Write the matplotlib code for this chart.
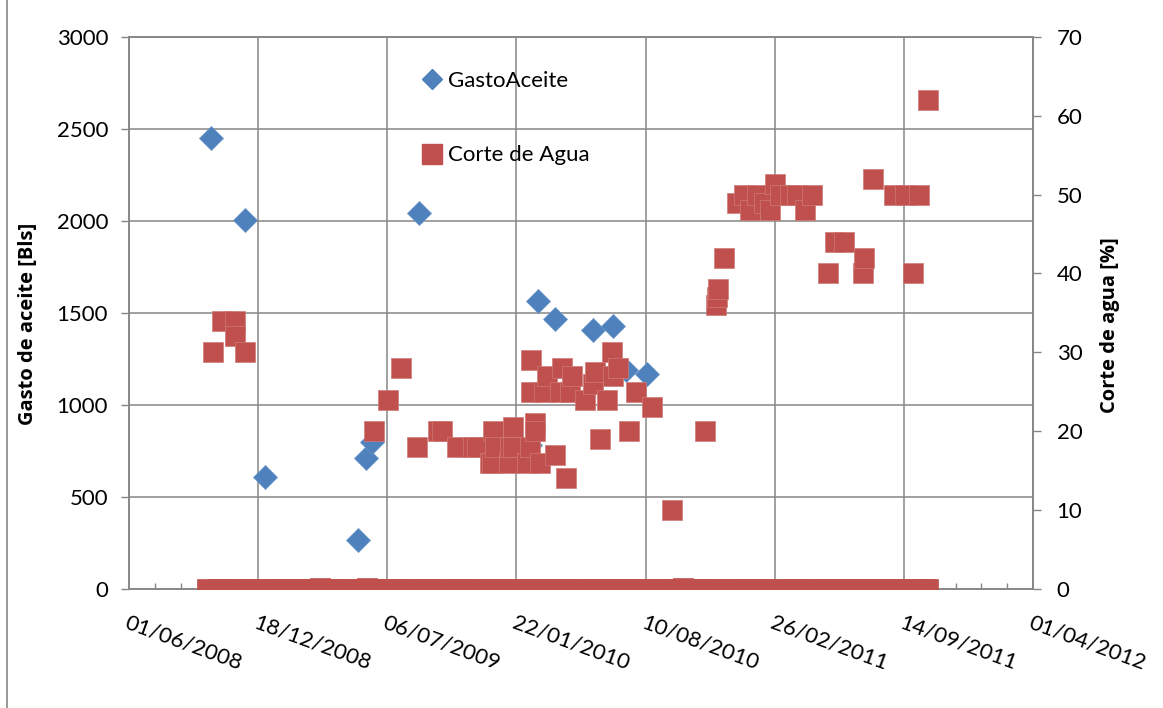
import pandas as pd
import matplotlib
matplotlib.use('Agg')
import matplotlib.pyplot as plt
from matplotlib.lines import Line2D

plt.rcParams['font.family'] = ['Lato', 'DejaVu Sans']

# days counted from 01/06/2008
start = pd.Timestamp('2008-06-01')

oil_days = [127, 180, 211, 354, 367, 376, 449, 621, 633, 659, 719, 749, 770, 802]
oil_bls = [2450, 2005, 607, 264, 712, 800, 2043, 781, 1562, 1466, 1406, 1431, 1190, 1167]

water_days = [130, 144, 164, 164, 179, 380, 401, 421, 446, 478, 484, 508, 533, 539,
              559, 562, 564, 567, 588, 590, 595, 595, 616, 621, 623, 623, 629, 629,
              637, 642, 647, 660, 668, 670, 677, 683, 686, 706, 719, 722, 730, 740,
              748, 750, 758, 775, 785, 810, 841, 892, 909, 910, 912, 922, 941, 952,
              962, 972, 983, 993, 1001, 1008, 1024, 1034, 1047, 1058, 1083, 1094,
              1107, 1136, 1138, 1152, 1184, 1202, 1214, 1224, 1237]
water_pct = [30, 34, 34, 32, 30, 20, 24, 28, 18, 20, 20, 18, 18, 18,
             16, 16, 20, 18, 16, 18, 20.5, 18, 16, 18, 29, 25, 21, 20,
             16, 25, 27, 17, 25, 28, 14, 25, 27, 24, 26, 27.5, 19, 24,
             30, 27, 28, 20, 25, 23, 10, 20, 36, 37, 38, 42, 49, 50,
             48, 50, 49, 48, 51.4, 50, 50, 50, 48, 50, 40, 44,
             44, 40, 42, 52, 50, 50, 40, 50, 62]

# readings with a zero cut (dense band on the date axis)
zero_days = [121, 137, 150, 166, 182, 195, 211, 228, 241, 257, 272, 289, 296, 304,
             318, 335, 350, 364, 368, 381, 395, 411, 425, 442, 457, 471, 488, 503,
             516, 532, 549, 563, 578, 595, 610, 623, 641, 654, 671, 685, 700, 717,
             731, 746, 762, 778, 792, 807, 824, 839, 853, 858, 870, 885, 899, 914,
             931, 946, 960, 977, 990, 1006, 1023, 1036, 1051, 1069, 1082, 1099,
             1113, 1128, 1145, 1158, 1176, 1189, 1204, 1220, 1232, 1238]
zero_pct = [0, 0, 0, 0, 0, 0, 0, 0, 0, 0, 0, 0, 0.15, 0,
            0, 0, 0, 0, 0.15, 0, 0, 0, 0, 0, 0, 0, 0, 0,
            0, 0, 0, 0, 0, 0, 0, 0, 0, 0, 0, 0, 0, 0,
            0, 0, 0, 0, 0, 0, 0, 0, 0, 0.15, 0, 0, 0, 0,
            0, 0, 0, 0, 0, 0, 0, 0, 0, 0, 0, 0,
            0, 0, 0, 0, 0, 0, 0, 0, 0, 0]

tick_labels = ['01/06/2008', '18/12/2008', '06/07/2009', '22/01/2010',
               '10/08/2010', '26/02/2011', '14/09/2011', '01/04/2012']

blue = '#4F81BD'
red = '#C0504D'
grey = '#868686'
bold_font = ['Open Sans', 'DejaVu Sans']

def to_dates(days):
    return start + pd.to_timedelta(days, unit='D')

fig = plt.figure(figsize=(11.63, 7.08), dpi=100)
ax = fig.add_axes([129 / 1163, 1 - 588.7 / 708, 904 / 1163, 551.7 / 708])
ax2 = ax.twinx()

ax.scatter(to_dates(oil_days), oil_bls, marker='D', s=150, color=blue,
           edgecolors='#6A95C8', linewidths=0.5, zorder=3)
ax2.scatter(to_dates(zero_days), zero_pct, marker='s', s=205, color=red,
            edgecolors=red, linewidths=0.5, zorder=3)
ax2.scatter(to_dates(water_days), water_pct, marker='s', s=205, color=red,
            edgecolors='#CF7B78', linewidths=0.5, zorder=3)

ticks = pd.to_datetime(tick_labels, format='%d/%m/%Y')
ax.set_xlim(ticks[0], ticks[-1])
ax.set_xticks(ticks)
ax.set_xticks(pd.date_range(ticks[0], ticks[-1], freq='40D'), minor=True)
ax.set_xticklabels(tick_labels, rotation=-20, ha='left', va='top',
                   rotation_mode='anchor', fontsize=16)

ax.set_ylim(0, 3000)
ax.set_yticks(range(0, 3001, 500))
ax2.set_ylim(0, 70)
ax2.set_yticks(range(0, 71, 10))

ax.grid(True, which='major', color=grey, lw=1.1)
ax.set_axisbelow(True)
for a in (ax, ax2):
    for sp in a.spines.values():
        sp.set_color(grey)
        sp.set_linewidth(1.1)

ax.tick_params(axis='x', which='major', length=0, pad=17)
ax.tick_params(axis='x', which='minor', direction='in', length=4, color=grey, width=1)
ax.tick_params(axis='y', direction='out', length=6, color=grey, width=1,
               labelsize=16, pad=9)
ax2.tick_params(axis='y', direction='out', length=6, color=grey, width=1,
                labelsize=16, pad=11)

ax.set_ylabel('Gasto de aceite [Bls]', fontsize=14.5, fontweight='bold',
              family=bold_font, ha='center', va='center')
ax.yaxis.set_label_coords((28 - 129) / 904, (588.7 - 324) / 551.7)
ax2.set_ylabel('Corte de agua [%]', fontsize=14.5, fontweight='bold',
               family=bold_font, ha='center', va='center')
ax2.yaxis.set_label_coords((1110 - 129) / 904, (588.7 - 325) / 551.7)

handles = [Line2D([], [], ls='none', marker='D', ms=10.5, color=blue),
           Line2D([], [], ls='none', marker='s', ms=14.5, color=red)]
ax2.legend(handles, ['GastoAceite', 'Corte de Agua'], loc='upper left',
           bbox_to_anchor=(421 / 1163, 1 - 71 / 708), bbox_transform=fig.transFigure,
           frameon=False, fontsize=16, handlelength=1.0, handletextpad=0.2,
           labelspacing=2.45, borderpad=0, borderaxespad=0)

fig.add_artist(plt.Line2D([7 / 1163, 7 / 1163], [0, 1], color=grey, lw=1.2))

fig.savefig('out.png', dpi=100)
